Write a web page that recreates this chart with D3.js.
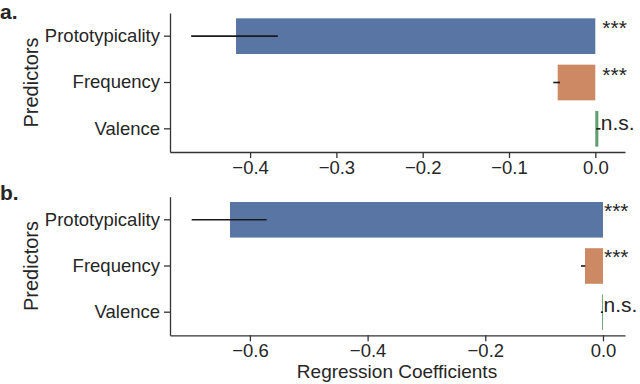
<!DOCTYPE html>
<html>
<head>
<meta charset="utf-8">
<script src="https://cdn.jsdelivr.net/npm/d3@7"></script>
<style>
  html, body { margin: 0; padding: 0; background: #fff; }
  svg { display: block; font-family: "Liberation Sans", Arial, Helvetica, sans-serif; }
</style>
</head>
<body>
<svg id="chart" width="640" height="384"></svg>
<script>
// ---- data ----
const categories = ["Prototypicality", "Frequency", "Valence"];
const barColors = ["#5875a4", "#cc8963", "#5f9e6e"];

// Panel a
const valuesA = [-0.4163, -0.0436, 0.0035];
const lowA    = [-0.4683, -0.0487, 0.0010];
const highA   = [-0.3679, -0.0409, 0.0060];
const sigA    = ["***", "***", "n.s."];
const ticksA  = [-0.4, -0.3, -0.2, -0.1, 0.0];
const domainA = [-0.4928, 0.0344];

// Panel b
const valuesB = [-0.6338, -0.0306, -0.0015];
const lowB    = [-0.6990, -0.0374, -0.0035];
const highB   = [-0.5715, -0.0300, 0.0000];
const sigB    = ["***", "***", "n.s."];
const ticksB  = [-0.6, -0.4, -0.2, 0.0];
const domainB = [-0.7358, 0.0374];

const panelLabels = ["a.", "b."];
const yLabel = "Predictors";
const xLabel = "Regression Coefficients";

// ---- drawing ----
const svg = d3.select("#chart");
const textColor = "#262626";
const axisColor = "#333333";
const fmt = d => (d < 0 ? "\u2212" : "") + Math.abs(d).toFixed(1);

function drawPanel(opt) {
  const g = svg.append("g");
  const x = d3.scaleLinear().domain(opt.domain).range([170, 625]);
  const y = d3.scaleBand().domain(categories).range([opt.top, opt.bottom]).paddingInner(0).paddingOuter(0);
  const bh = y.bandwidth() * 0.77;
  const cy = c => y(c) + y.bandwidth() / 2;

  // bars
  g.selectAll("rect.bar").data(categories).join("rect")
    .attr("class", "bar")
    .attr("x", (c, i) => Math.min(x(0), x(opt.values[i])))
    .attr("width", (c, i) => Math.abs(x(opt.values[i]) - x(0)))
    .attr("y", c => cy(c) - bh / 2)
    .attr("height", bh)
    .attr("fill", (c, i) => barColors[i]);

  // error bars
  g.selectAll("line.err").data(categories).join("line")
    .attr("class", "err")
    .attr("x1", (c, i) => x(opt.low[i]))
    .attr("x2", (c, i) => x(opt.high[i]))
    .attr("y1", c => cy(c))
    .attr("y2", c => cy(c))
    .attr("stroke", "#1a1a1a")
    .attr("stroke-width", 1.6);

  // significance labels
  g.selectAll("text.sig").data(categories).join("text")
    .attr("class", "sig")
    .attr("x", (c, i) => x(0) + opt.sigDx[i])
    .attr("y", (c, i) => cy(c) + opt.sigDy[i])
    .attr("fill", textColor)
    .attr("font-size", 21)
    .text((c, i) => opt.sig[i]);

  // x axis
  const xa = g.append("g").attr("transform", `translate(0,${opt.bottom})`)
    .call(d3.axisBottom(x).tickValues(opt.ticks).tickFormat(fmt).tickSize(6).tickPadding(3).tickSizeOuter(0));
  xa.select(".domain").attr("stroke", axisColor).attr("stroke-width", 1.3);
  xa.selectAll(".tick line").attr("stroke", axisColor).attr("stroke-width", 1.3);
  xa.selectAll(".tick text").attr("fill", textColor).attr("font-size", 18.5).attr("font-family", null);

  // y axis
  const ya = g.append("g").attr("transform", "translate(170,0)")
    .call(d3.axisLeft(y).tickSize(6).tickPadding(4).tickSizeOuter(0));
  ya.select(".domain").attr("stroke", axisColor).attr("stroke-width", 1.3);
  ya.selectAll(".tick line").attr("stroke", axisColor).attr("stroke-width", 1.3);
  ya.selectAll(".tick text").attr("fill", textColor).attr("font-size", 18.5).attr("font-family", null);

  // y label
  g.append("text")
    .attr("transform", `translate(38,${(opt.top + opt.bottom) / 2}) rotate(-90)`)
    .attr("text-anchor", "middle")
    .attr("fill", textColor)
    .attr("font-size", 20)
    .text(yLabel);

  // panel label
  g.append("text")
    .attr("x", 0)
    .attr("y", opt.labelY)
    .attr("fill", textColor)
    .attr("font-size", 21)
    .attr("font-weight", "bold")
    .text(opt.label);
}

drawPanel({
  values: valuesA, low: lowA, high: highA, sig: sigA, ticks: ticksA, domain: domainA,
  top: 13, bottom: 152, label: panelLabels[0], labelY: 19,
  sigDx: [7, 7, 5.5], sigDy: [-1, -1, 1]
});
drawPanel({
  values: valuesB, low: lowB, high: highB, sig: sigB, ticks: ticksB, domain: domainB,
  top: 196.7, bottom: 335.3, label: panelLabels[1], labelY: 200,
  sigDx: [1, 1, 0.5], sigDy: [-2, -2, 0]
});

svg.append("text")
  .attr("x", 397)
  .attr("y", 378)
  .attr("text-anchor", "middle")
  .attr("fill", textColor)
  .attr("font-size", 19)
  .text(xLabel);
</script>
</body>
</html>
